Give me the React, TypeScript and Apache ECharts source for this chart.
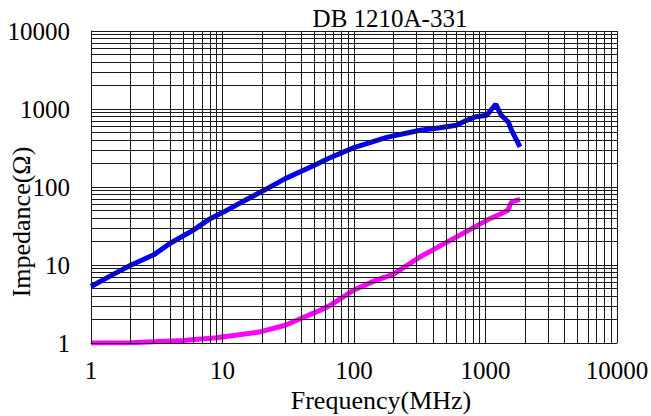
import React, { useEffect, useRef } from "react";
import * as echarts from "echarts";

const titleText = "DB 1210A-331";
const xName = "Frequency(MHz)";
const yName = "Impedance(Ω)";

const blueFreq = [1, 1.5, 2, 3, 4, 6, 8, 10, 15, 20, 30, 50, 65, 100, 177, 318, 450, 600, 720, 830, 1020, 1195, 1320, 1490, 1580, 1830];
const blueZ = [5.3, 7.7, 9.9, 13.5, 19, 28, 39, 47, 68, 88, 128, 190, 235, 320, 433, 533, 575, 620, 716, 790, 830, 1150, 830, 680, 533, 326];

const pinkFreq = [1, 2, 5, 9, 19, 30, 55, 65, 99, 148, 199, 318, 570, 1020, 1300, 1490, 1540, 1600, 1830];
const pinkZ = [1.0, 1.01, 1.08, 1.17, 1.38, 1.69, 2.62, 3.0, 4.74, 6.4, 7.6, 12.7, 21.8, 37.4, 45, 50.8, 60, 65, 69.5];

const decades = [1, 10, 100, 1000];
const multipliers = [1, 2, 3, 4, 5, 6, 7, 8, 9];

export default function App() {
  const ref = useRef<HTMLDivElement>(null);
  useEffect(() => {
    if (!ref.current) return;
    const chart = echarts.init(ref.current, null, { renderer: "svg" });
    const gridVals: number[] = [];
    decades.forEach((d) => multipliers.forEach((m) => gridVals.push(d * m)));
    gridVals.push(10000);
    const markData: any[] = [];
    gridVals.forEach((v) => markData.push({ xAxis: v }));
    gridVals.forEach((v) => markData.push({ yAxis: v }));
    const font = "Liberation Serif";
    const fmt = (v: number) => String(Math.round(v));
    chart.setOption({
      animation: false,
      textStyle: { fontFamily: font },
      title: {
        text: titleText,
        left: 385,
        top: 1,
        textAlign: "center",
        textStyle: { fontFamily: font, fontSize: 25, fontWeight: "normal", color: "#000" },
      },
      graphic: [
        {
          type: "text",
          x: 21,
          y: 222,
          rotation: Math.PI / 2,
          style: {
            text: yName,
            fontFamily: font,
            fontSize: 26,
            fill: "#000",
            align: "center",
            verticalAlign: "middle",
          },
        },
      ],
      grid: { left: 91, right: 34, top: 31, bottom: 73, containLabel: false, outerBoundsMode: "none" },
      xAxis: {
        type: "log",
        logBase: 10,
        min: 1,
        max: 10000,
        name: xName,
        nameLocation: "middle",
        nameGap: 33,
        nameTextStyle: { fontFamily: font, fontSize: 26, color: "#000", padding: [0, 0, 0, 54] },
        axisLine: { show: true, lineStyle: { color: "#000", width: 1 } },
        axisTick: { show: false },
        splitLine: { show: false },
        axisLabel: { fontFamily: font, fontSize: 25, color: "#000", margin: 15, formatter: fmt },
      },
      yAxis: {
        type: "log",
        logBase: 10,
        min: 1,
        max: 10000,
        axisLine: { show: true, lineStyle: { color: "#000", width: 1 } },
        axisTick: { show: false },
        splitLine: { show: false },
        axisLabel: { fontFamily: font, fontSize: 25, color: "#000", margin: 21, formatter: fmt },
      },
      series: [
        {
          type: "line",
          z: 1,
          data: [],
          silent: true,
          markLine: {
            silent: true,
            symbol: ["none", "none"],
            label: { show: false },
            lineStyle: { color: "#1a1a1a", width: 1, type: "solid" },
            data: markData,
          },
        },
        {
          type: "line",
          z: 3,
          data: blueFreq.map((f, i) => [f, blueZ[i]]),
          showSymbol: false,
          lineStyle: { color: "#0000ff", width: 5 },
          itemStyle: { color: "#0000ff" },
        },
        {
          type: "line",
          z: 3,
          data: pinkFreq.map((f, i) => [f, pinkZ[i]]),
          showSymbol: false,
          lineStyle: { color: "#ff00ff", width: 5 },
          itemStyle: { color: "#ff00ff" },
        },
      ],
    });
    return () => chart.dispose();
  }, []);
  return <div ref={ref} style={{ width: 651, height: 416, position: "absolute", left: 0, top: 0 }} />;
}
